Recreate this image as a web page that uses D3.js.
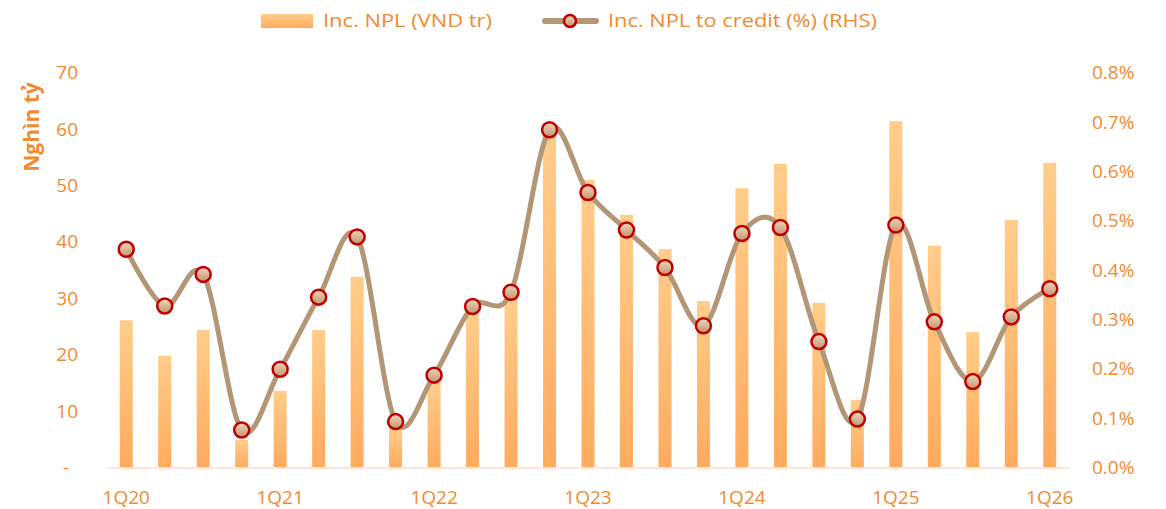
<!DOCTYPE html>
<html>
<head>
<meta charset="utf-8">
<script src="https://cdn.jsdelivr.net/npm/d3@7"></script>
<style>
  body { margin: 0; background: #fff; }
  text { font-family: "Open Sans", "Noto Sans", sans-serif; }
</style>
</head>
<body>
<svg id="chart" width="1166" height="509"></svg>
<script>
const WIDTH = 1166;
const HEIGHT = 509;
const ORANGE = "#f28a2e";

// quarters 1Q20 .. 1Q26
const quarters = [
  "1Q20", "2Q20", "3Q20", "4Q20",
  "1Q21", "2Q21", "3Q21", "4Q21",
  "1Q22", "2Q22", "3Q22", "4Q22",
  "1Q23", "2Q23", "3Q23", "4Q23",
  "1Q24", "2Q24", "3Q24", "4Q24",
  "1Q25", "2Q25", "3Q25", "4Q25",
  "1Q26",
];
// Inc. NPL (VND tr) - left axis, nghin ty
const incNpl = [
  26.0, 19.7, 24.3, 4.8,
  13.5, 24.3, 33.7, 7.0,
  15.0, 27.0, 30.0, 59.2,
  50.9, 44.7, 38.6, 29.4,
  49.4, 53.7, 29.1, 11.9,
  61.3, 39.2, 23.9, 43.8,
  53.9,
];
// Inc. NPL to credit (%) - right axis
const incNplToCredit = [
  0.441, 0.326, 0.390, 0.075,
  0.198, 0.344, 0.466, 0.092,
  0.186, 0.325, 0.354, 0.683,
  0.556, 0.480, 0.404, 0.286,
  0.473, 0.485, 0.254, 0.097,
  0.490, 0.294, 0.173, 0.304,
  0.361,
];
const leftTicks = [0, 10, 20, 30, 40, 50, 60, 70];
const rightTicks = [0, 0.1, 0.2, 0.3, 0.4, 0.5, 0.6, 0.7, 0.8];
const xLabels = ["1Q20", "1Q21", "1Q22", "1Q23", "1Q24", "1Q25", "1Q26"];

const MARGIN = { top: 72, bottom: 467, left: 107, right: 1069 };

const svg = d3.select("#chart");

const defs = svg.append("defs");
const barGrad = defs.append("linearGradient")
  .attr("id", "barGrad")
  .attr("x1", 0).attr("y1", 0).attr("x2", 0).attr("y2", 1);
barGrad.append("stop").attr("offset", "0%").attr("stop-color", "#ffcd8a");
barGrad.append("stop").attr("offset", "100%").attr("stop-color", "#ffab5f");

const dotGrad = defs.append("linearGradient")
  .attr("id", "dotGrad")
  .attr("x1", 0).attr("y1", 0).attr("x2", 0).attr("y2", 1);
dotGrad.append("stop").attr("offset", "0%").attr("stop-color", "#f2d6bb");
dotGrad.append("stop").attr("offset", "100%").attr("stop-color", "#c29470");

const xScale = d3.scaleBand()
  .domain(quarters)
  .range([MARGIN.left, MARGIN.right]);

const yLeft = d3.scaleLinear()
  .domain([0, 70])
  .range([MARGIN.bottom, MARGIN.top]);

const yRight = d3.scaleLinear()
  .domain([0, 0.8])
  .range([MARGIN.bottom, MARGIN.top]);

const cx = (q) => xScale(q) + xScale.bandwidth() / 2;
const BAR_W = 13;

// bars
svg.append("g")
  .selectAll("rect")
  .data(quarters)
  .join("rect")
  .attr("x", (q) => cx(q) - BAR_W / 2)
  .attr("y", (q, i) => yLeft(incNpl[i]))
  .attr("width", BAR_W)
  .attr("height", (q, i) => yLeft(0) - yLeft(incNpl[i]))
  .attr("fill", "url(#barGrad)");

// baseline
svg.append("line")
  .attr("x1", MARGIN.left).attr("x2", MARGIN.right)
  .attr("y1", yLeft(0) + 1).attr("y2", yLeft(0) + 1)
  .attr("stroke", "#fde6d6")
  .attr("stroke-width", 2);

// smoothed line
const line = d3.line()
  .x((d, i) => cx(quarters[i]))
  .y((d) => yRight(d))
  .curve(d3.curveCardinal.tension(0));

svg.append("path")
  .datum(incNplToCredit)
  .attr("d", line)
  .attr("fill", "none")
  .attr("stroke", "#b39676")
  .attr("stroke-width", 5)
  .attr("stroke-linecap", "round");

svg.append("g")
  .selectAll("circle")
  .data(incNplToCredit)
  .join("circle")
  .attr("cx", (d, i) => cx(quarters[i]))
  .attr("cy", (d) => yRight(d))
  .attr("r", 7.5)
  .attr("fill", "url(#dotGrad)")
  .attr("stroke", "#c00000")
  .attr("stroke-width", 2.5);

// left axis
const leftAxis = svg.append("g")
  .attr("transform", `translate(78,0)`)
  .call(d3.axisLeft(yLeft).tickValues(leftTicks).tickSize(0).tickPadding(0)
    .tickFormat((d) => (d === 0 ? "-" : d)));
leftAxis.select(".domain").remove();
leftAxis.selectAll("text")
  .attr("fill", ORANGE)
  .attr("font-size", 19)
  .attr("dy", "0.35em");
leftAxis.selectAll(".tick")
  .filter((d) => d === 0)
  .select("text")
  .attr("dx", -9);

// right axis
const rightAxis = svg.append("g")
  .attr("transform", `translate(1092,0)`)
  .call(d3.axisRight(yRight).tickValues(rightTicks).tickSize(0).tickPadding(0)
    .tickFormat((d) => d.toFixed(1) + "%"));
rightAxis.select(".domain").remove();
rightAxis.selectAll("text")
  .attr("fill", ORANGE)
  .attr("font-size", 19)
  .attr("dy", "0.35em");

// x axis
const xAxis = svg.append("g")
  .attr("transform", `translate(0,${MARGIN.bottom})`)
  .call(d3.axisBottom(xScale).tickValues(xLabels).tickSize(0).tickPadding(24));
xAxis.select(".domain").remove();
xAxis.selectAll("text")
  .attr("fill", ORANGE)
  .attr("font-size", 19);

// y axis title
svg.append("text")
  .attr("transform", "translate(39,127) rotate(-90)")
  .attr("text-anchor", "middle")
  .attr("fill", ORANGE)
  .attr("font-size", 21)
  .attr("font-weight", "bold")
  .text("Nghìn tỷ");

// legend
const legend = svg.append("g");
legend.append("rect")
  .attr("x", 261).attr("y", 14)
  .attr("width", 52).attr("height", 14)
  .attr("fill", "url(#barGrad)");
legend.append("text")
  .attr("x", 323).attr("y", 27)
  .attr("fill", ORANGE)
  .attr("font-size", 19)
  .attr("textLength", 169)
  .attr("lengthAdjust", "spacingAndGlyphs")
  .text("Inc. NPL (VND tr)");
legend.append("line")
  .attr("x1", 545).attr("x2", 596)
  .attr("y1", 21).attr("y2", 21)
  .attr("stroke", "#b39676")
  .attr("stroke-width", 6)
  .attr("stroke-linecap", "round");
legend.append("circle")
  .attr("cx", 570).attr("cy", 21).attr("r", 6)
  .attr("fill", "url(#dotGrad)")
  .attr("stroke", "#c00000")
  .attr("stroke-width", 2.5);
legend.append("text")
  .attr("x", 608).attr("y", 27)
  .attr("fill", ORANGE)
  .attr("font-size", 19)
  .attr("textLength", 269)
  .attr("lengthAdjust", "spacingAndGlyphs")
  .text("Inc. NPL to credit (%) (RHS)");
</script>
</body>
</html>
